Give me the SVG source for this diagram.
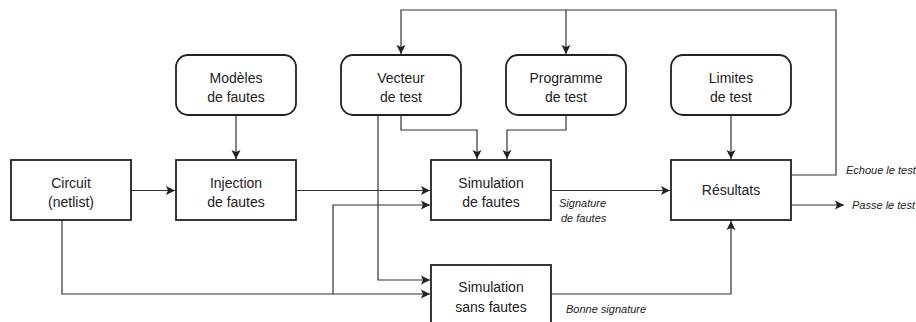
<svg xmlns="http://www.w3.org/2000/svg" width="916" height="322" viewBox="0 0 916 322">
<style>
.box{fill:#fff;stroke:#222;stroke-width:1.8}
.t{font-family:"Liberation Sans",Arial,sans-serif;font-size:14px;fill:#222;text-anchor:middle}
.lbl{font-family:"Liberation Sans",Arial,sans-serif;font-size:11px;font-style:italic;fill:#222}
.c{fill:none;stroke:#333;stroke-width:1.2}
</style>
<defs>
<marker id="ah" markerUnits="userSpaceOnUse" markerWidth="10" markerHeight="10" viewBox="0 0 10 10" refX="9" refY="5" orient="auto">
<path d="M0,0.5 L9,5 L0,9.5 L2,5 Z" fill="#222"/>
</marker>
</defs>
<rect width="916" height="322" fill="#fff"/>
<g id="connectors">
<path class="c" d="M791,175 H836 V10 H401 V54" marker-end="url(#ah)"/>
<path class="c" d="M566,10 V54" marker-end="url(#ah)"/>
<path class="c" d="M236,115 V159" marker-end="url(#ah)"/>
<path class="c" d="M731,115 V159" marker-end="url(#ah)"/>
<path class="c" d="M401,115 V130 H477 V159" marker-end="url(#ah)"/>
<path class="c" d="M566,115 V130 H507 V159" marker-end="url(#ah)"/>
<path class="c" d="M378,115 V280 H430" marker-end="url(#ah)"/>
<path class="c" d="M131,190.5 H175" marker-end="url(#ah)"/>
<path class="c" d="M296,190.5 H430" marker-end="url(#ah)"/>
<path class="c" d="M62,220 V294 H430" marker-end="url(#ah)"/>
<path class="c" d="M333,294 V205 H430" marker-end="url(#ah)"/>
<path class="c" d="M551,190.5 H670" marker-end="url(#ah)"/>
<path class="c" d="M551,294 H731 V221" marker-end="url(#ah)"/>
<path class="c" d="M791,205 H844" marker-end="url(#ah)"/>
<text class="lbl" x="559" y="207">Signature</text>
<text class="lbl" x="561" y="222">de fautes</text>
<text class="lbl" x="846" y="174">Echoue le test</text>
<text class="lbl" x="852" y="209">Passe le test</text>
<text class="lbl" x="566" y="313">Bonne signature</text>
</g>
<g id="modeles"><rect class="box" x="176" y="55" width="120" height="60" rx="12"/><text class="t" x="236" y="82.5">Modèles</text><text class="t" x="236" y="102">de fautes</text></g>
<g id="vecteur"><rect class="box" x="341" y="55" width="120" height="60" rx="12"/><text class="t" x="401" y="82.5">Vecteur</text><text class="t" x="401" y="102">de test</text></g>
<g id="programme"><rect class="box" x="506" y="55" width="120" height="60" rx="12"/><text class="t" x="566" y="82.5">Programme</text><text class="t" x="566" y="102">de test</text></g>
<g id="limites"><rect class="box" x="671" y="55" width="120" height="60" rx="12"/><text class="t" x="731" y="82.5">Limites</text><text class="t" x="731" y="102">de test</text></g>
<g id="circuit"><rect class="box" x="11" y="160" width="120" height="60"/><text class="t" x="71" y="187.5">Circuit</text><text class="t" x="71" y="207">(netlist)</text></g>
<g id="injection"><rect class="box" x="176" y="160" width="120" height="60"/><text class="t" x="236" y="187.5">Injection</text><text class="t" x="236" y="207">de fautes</text></g>
<g id="simfautes"><rect class="box" x="431" y="160" width="120" height="60"/><text class="t" x="491" y="187.5">Simulation</text><text class="t" x="491" y="207">de fautes</text></g>
<g id="resultats"><rect class="box" x="671" y="160" width="120" height="60"/><text class="t" x="731" y="195">Résultats</text></g>
<g id="simsans"><rect class="box" x="431" y="265" width="120" height="62"/><text class="t" x="491" y="292">Simulation</text><text class="t" x="491" y="311.5">sans fautes</text></g>
</svg>
